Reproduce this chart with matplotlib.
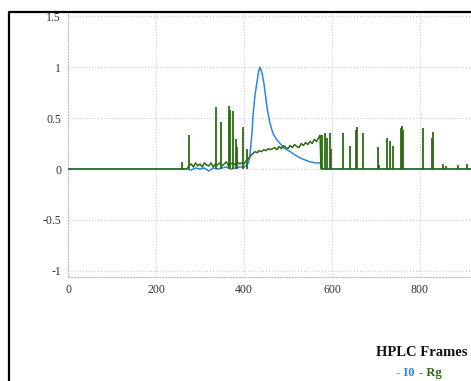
import matplotlib
matplotlib.use("Agg")
import matplotlib.pyplot as plt
from matplotlib.lines import Line2D
from matplotlib.patches import Rectangle

# I0 trace (normalised intensity vs HPLC frame)
i0_frames = [0, 265, 270, 280, 290, 300, 310, 320, 330, 340, 350, 360, 370, 380, 390,
             400, 405, 410, 414, 418, 421, 425, 429, 433, 436, 439, 442, 446, 450, 454,
             459, 463, 467, 474, 482, 490, 497, 505, 515, 527, 538, 550, 562, 573, 575,
             578, 600, 916]
i0_values = [0.0, 0.0, 0.0, -0.01, 0.01, 0.0, 0.01, -0.02, 0.01, 0.0, 0.01, 0.02, 0.0, 0.01, 0.02,
             0.02, 0.03, 0.06, 0.15, 0.35, 0.55, 0.72, 0.84, 0.95, 1.0, 0.97, 0.92, 0.82, 0.68, 0.56,
             0.45, 0.39, 0.34, 0.29, 0.25, 0.21, 0.19, 0.17, 0.14, 0.11, 0.09, 0.07, 0.06, 0.06, 0.02,
             0.0, 0.0, 0.0]

# Rg trace baseline
rg_frames = [0, 258, 270, 275, 280, 285, 290, 295, 300, 305, 310, 315, 320, 325, 330, 335,
             340, 345, 350, 355, 360, 365, 370, 375, 380, 385, 390, 395, 400, 405, 410,
             415, 420, 425, 430, 435, 440, 445, 450, 455, 460, 465, 470, 475, 480, 485,
             490, 495, 500, 505, 510, 515, 520, 525, 530, 535, 540, 545, 550, 555, 560,
             565, 570, 573, 575, 916]
rg_values = [0.0, 0.0, 0.0, 0.03, 0.05, 0.02, 0.06, 0.03, 0.05, 0.02, 0.06, 0.04, 0.03, 0.06, 0.02, 0.05,
             0.04, 0.06, 0.03, 0.05, 0.07, 0.03, 0.05, 0.06, 0.04, 0.07, 0.05, 0.06, 0.05, 0.08, 0.10,
             0.13, 0.15, 0.17, 0.16, 0.18, 0.17, 0.19, 0.18, 0.20, 0.19, 0.20, 0.21, 0.19, 0.22, 0.20,
             0.23, 0.21, 0.20, 0.23, 0.21, 0.24, 0.22, 0.21, 0.25, 0.23, 0.26, 0.24, 0.27, 0.25, 0.29,
             0.27, 0.31, 0.33, 0.0, 0.0]

# Rg outlier spikes
spike_frames = [259, 274, 336, 348, 366, 368, 376, 381, 385, 397, 406,
                578, 584, 588, 595, 598, 626, 642, 655, 658, 671, 704, 708, 724, 732, 739,
                756, 759, 762, 808, 827, 830, 853, 860, 887, 908]
spike_heights = [0.07, 0.33, 0.61, 0.46, 0.62, 0.58, 0.57, 0.29, 0.22, 0.41, 0.20,
                 0.33, 0.35, 0.30, 0.35, 0.20, 0.35, 0.23, 0.38, 0.41, 0.35, 0.22, 0.04, 0.30, 0.27, 0.23,
                 0.40, 0.42, 0.38, 0.40, 0.30, 0.36, 0.05, 0.03, 0.04, 0.05]

x_ticks = [0, 200, 400, 600, 800]
y_ticks = [-1, -0.5, 0, 0.5, 1, 1.5]
y_labels = ["-1", "-0.5", "0", "0.5", "1", "1.5"]

blue = "#2f86dc"
green = "#2c6b12"
serif = ["Liberation Serif", "DejaVu Serif"]

fig = plt.figure(figsize=(4.71, 3.81), dpi=100)
ax = fig.add_axes([68 / 471, 1 - 277 / 381, 1 - 68 / 471, 263 / 381])

ax.plot(i0_frames, i0_values, color=blue, lw=1.1, zorder=3)
ax.plot(rg_frames, rg_values, color=green, lw=1.1, zorder=4)
ax.vlines(spike_frames, 0, spike_heights, color=green, lw=1.3, zorder=4)

ax.set_xlim(0, 916)
ax.set_ylim(-1.059, 1.52)
ax.set_xticks(x_ticks)
ax.set_yticks(y_ticks)
ax.set_yticklabels(y_labels)
ax.grid(True, color="#cccccc", ls=":", lw=0.8)
ax.tick_params(length=0, pad=5, labelsize=8.5, labelcolor="#333333")
for lab in ax.get_xticklabels() + ax.get_yticklabels():
    lab.set_family(serif)
for side in ["top", "right"]:
    ax.spines[side].set_visible(False)
for side in ["left", "bottom"]:
    ax.spines[side].set_color("#bbbbbb")
    ax.spines[side].set_linestyle(":")
    ax.spines[side].set_linewidth(0.8)

fig.text(468 / 471, 1 - 352 / 381, "HPLC Frames", ha="right", va="center",
         fontsize=10.5, fontweight="bold", family=serif, color="#111111")
fig.text(396 / 471, 1 - 373 / 381, "- I0", ha="left", va="center",
         fontsize=9, fontweight="bold", family=serif, color=blue)
fig.text(419 / 471, 1 - 373 / 381, "- Rg", ha="left", va="center",
         fontsize=9, fontweight="bold", family=serif, color=green)

# frame border, cropped like the screenshot
top = 1 - 12 / 381
fig.add_artist(Rectangle((0, top), 1, 1 - top, transform=fig.transFigure,
                         facecolor="white", edgecolor="none", zorder=10))
fig.add_artist(Line2D([9 / 471, 9 / 471, 1], [0, top, top], transform=fig.transFigure,
                      color="black", lw=1.6, zorder=11))

plt.savefig("out.png", dpi=100)
